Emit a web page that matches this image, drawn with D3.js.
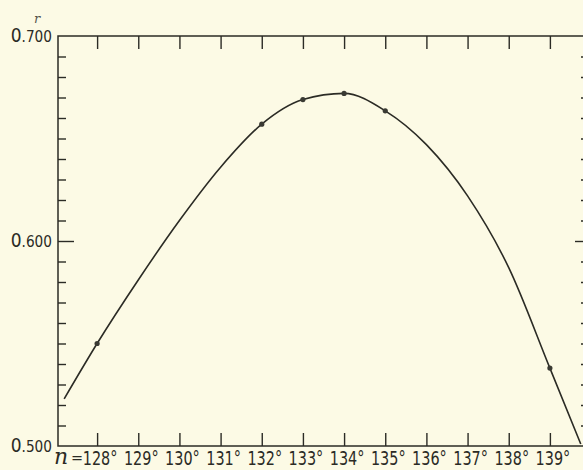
<!DOCTYPE html>
<html>
<head>
<meta charset="utf-8">
<script src="https://cdn.jsdelivr.net/npm/d3@7"></script>
<style>
  body { margin: 0; background: #fcfae5; }
  svg { display: block; }
  text { fill: #2b2b25; font-family: "Liberation Sans Narrow", "DejaVu Sans Condensed", sans-serif; }
</style>
</head>
<body>
<svg id="chart"></svg>
<script>
// measured points (n in degrees, r)
const measuredN = [128, 132, 133, 134, 135, 139]
const measuredR = [0.550, 0.657, 0.669, 0.672, 0.6635, 0.538]

// drawn curve at each degree
const curveN = [127.2, 128, 129, 130, 131, 132, 133, 134, 135, 136, 137, 138, 139, 139.75]
const curveR = [0.523, 0.550, 0.581, 0.610, 0.636, 0.657, 0.669, 0.672, 0.6635, 0.647, 0.622, 0.587, 0.538, 0.501]

const xTicks = [128, 129, 130, 131, 132, 133, 134, 135, 136, 137, 138, 139]
const yLabels = [0.500, 0.600, 0.700]

const width = 583, height = 470
const ink = "#2b2b25"

const svg = d3.select("#chart")
  .attr("width", width)
  .attr("height", height)

const xScale = d3.scaleLinear()
  .domain([127.05, 139.95])
  .range([58, 589])
const yScale = d3.scaleLinear()
  .domain([0.5, 0.7])
  .range([446, 36])

const x0 = xScale.range()[0], x1 = xScale.range()[1]
const y0 = yScale.range()[0], y1 = yScale.range()[1]

// frame
svg.append("rect")
  .attr("x", x0).attr("y", y1)
  .attr("width", x1 - x0).attr("height", y0 - y1)
  .attr("fill", "none")
  .attr("stroke", ink)
  .attr("stroke-width", 1.5)

// minor y ticks every 0.01 (longer at 0.600)
const yTicks = d3.range(51, 70).map(d => d / 100)
svg.append("g")
  .attr("transform", `translate(${x0},0)`)
  .call(d3.axisRight(yScale).tickValues(yTicks).tickSize(8).tickFormat(""))
  .call(g => g.select(".domain").remove())
  .call(g => g.selectAll(".tick line")
    .attr("stroke", ink).attr("stroke-width", 1.4)
    .attr("x2", d => Math.abs(d - 0.6) < 1e-6 ? 16 : 8))
svg.append("g")
  .attr("transform", `translate(${x1},0)`)
  .call(d3.axisLeft(yScale).tickValues(yTicks).tickSize(8).tickFormat(""))
  .call(g => g.select(".domain").remove())
  .call(g => g.selectAll(".tick line")
    .attr("stroke", ink).attr("stroke-width", 1.4)
    .attr("x2", d => Math.abs(d - 0.6) < 1e-6 ? -14 : -8))

// x ticks on bottom and top
svg.append("g")
  .attr("transform", `translate(0,${y0})`)
  .call(d3.axisTop(xScale).tickValues(xTicks).tickSize(13).tickFormat(""))
  .call(g => g.select(".domain").remove())
  .call(g => g.selectAll(".tick line").attr("stroke", ink).attr("stroke-width", 1.4))
svg.append("g")
  .attr("transform", `translate(0,${y1})`)
  .call(d3.axisBottom(xScale).tickValues(xTicks).tickSize(13).tickFormat(""))
  .call(g => g.select(".domain").remove())
  .call(g => g.selectAll(".tick line").attr("stroke", ink).attr("stroke-width", 1.4))

// x labels
svg.selectAll(".xlab")
  .data(xTicks)
  .enter()
  .append("text")
  .attr("class", "xlab")
  .attr("transform", d => `translate(${xScale(d) + 3}, 465) scale(0.8,1)`)
  .attr("text-anchor", "middle")
  .style("font-size", "20px")
  .text(d => d + "°")

svg.append("text")
  .attr("x", 54).attr("y", 464)
  .style("font-family", "'DejaVu Serif', serif")
  .style("font-style", "italic")
  .style("font-size", "22px")
  .text("n")
svg.append("text")
  .attr("x", 71).attr("y", 463)
  .style("font-size", "16px")
  .text("=")

// y labels
const yl = svg.selectAll(".ylab")
  .data(yLabels)
  .enter()
  .append("text")
  .attr("class", "ylab")
  .attr("transform", d => `translate(52, ${yScale(d) + 6}) scale(0.95,1)`)
  .attr("text-anchor", "end")
yl.append("tspan").style("font-size", "20px").text("0")
yl.append("tspan").style("font-size", "16px").text(d => d3.format(".3f")(d).slice(1))

svg.append("text")
  .attr("x", 34).attr("y", 23)
  .style("font-family", "'DejaVu Serif', serif")
  .style("font-style", "italic")
  .style("font-size", "13px")
  .style("fill", "#55554c")
  .text("r")

// curve
const curveData = curveN.map((n, i) => [n, curveR[i]])
svg.append("path")
  .datum(curveData)
  .attr("fill", "none")
  .attr("stroke", ink)
  .attr("stroke-width", 1.6)
  .attr("d", d3.line()
    .x(d => xScale(d[0]))
    .y(d => yScale(d[1]))
    .curve(d3.curveMonotoneX))

// points
svg.selectAll("circle")
  .data(measuredN)
  .enter()
  .append("circle")
  .attr("cx", d => xScale(d))
  .attr("cy", (d, i) => yScale(measuredR[i]))
  .attr("r", 2.6)
  .attr("fill", "#3a3a33")
</script>
</body>
</html>
